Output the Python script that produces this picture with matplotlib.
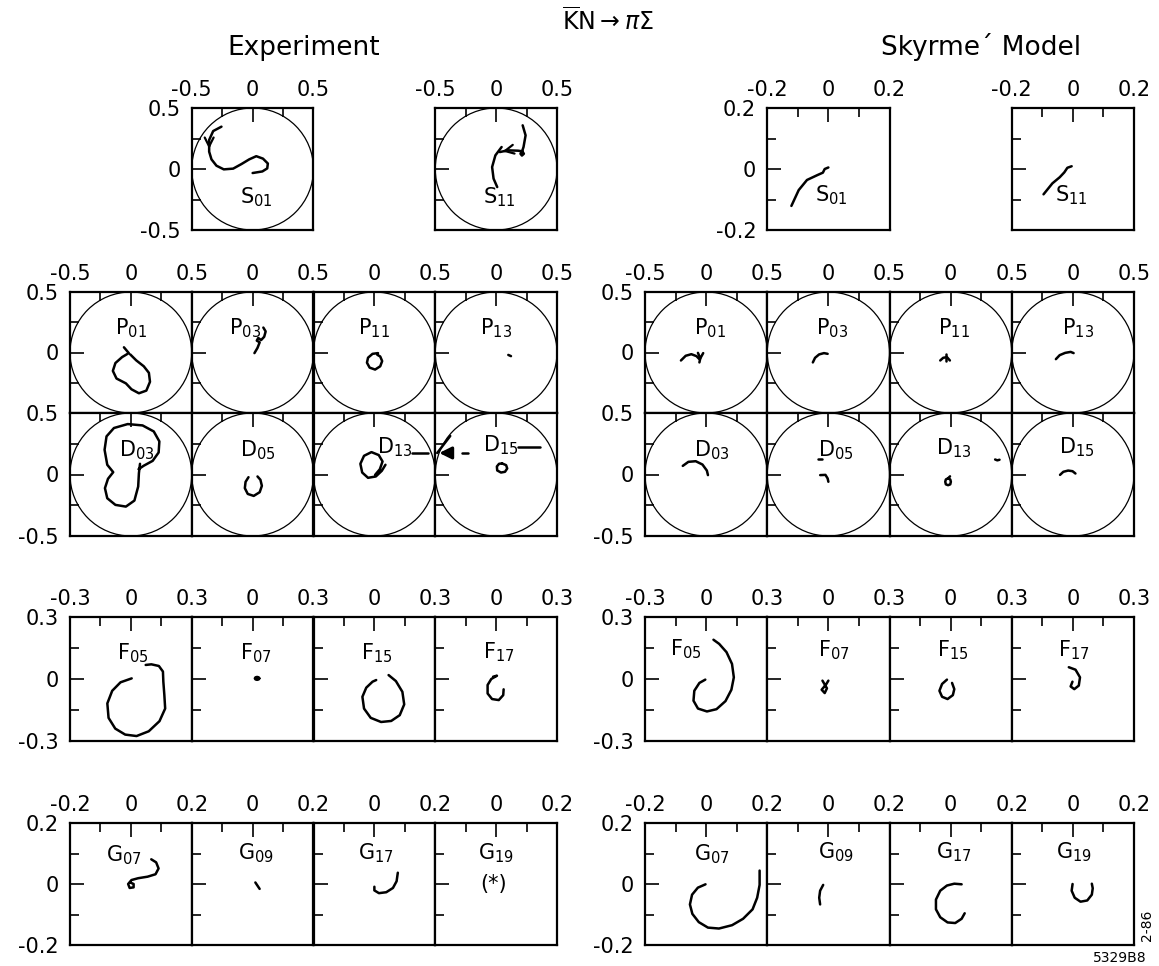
import numpy as np
import matplotlib.pyplot as plt
from matplotlib.patches import Circle

plt.rcParams['font.family'] = ['DejaVu Sans']
plt.rcParams['mathtext.fontset'] = 'dejavusans'

# Argand curves (Re T, Im T), experiment
exp_s01 = [(-0.256, 0.347), (-0.324, 0.311), (-0.357, 0.238), (-0.357, 0.142), (-0.338, 0.079),
           (-0.297, 0.027), (-0.237, -0.003), (-0.160, 0.003), (-0.091, 0.041), (-0.028, 0.079),
           (0.030, 0.105), (0.085, 0.085), (0.125, 0.045), (0.120, 0.005), (0.080, -0.020), (0.0, -0.033)]
exp_s11a = [(0.218, 0.358), (0.242, 0.276), (0.225, 0.180), (0.215, 0.150), (0.200, 0.125), (0.212, 0.110),
            (0.228, 0.125), (0.215, 0.145), (0.180, 0.150), (0.099, 0.153), (0.030, 0.139)]
exp_s11b = [(0.045, 0.180), (-0.006, 0.112), (-0.033, 0.016), (-0.021, -0.079), (0.009, -0.148)]
exp_p01 = [(-0.057, 0.043), (-0.017, -0.005), (-0.072, -0.038), (-0.127, -0.087), (-0.148, -0.152),
           (-0.118, -0.215), (-0.041, -0.255), (0.005, -0.304), (0.066, -0.337), (0.127, -0.315),
           (0.157, -0.242), (0.148, -0.168), (0.106, -0.114), (0.044, -0.065), (-0.005, -0.016)]
exp_p03 = [(0.015, -0.005), (0.040, 0.038), (0.058, 0.084), (0.034, 0.098), (0.046, 0.120),
           (0.070, 0.103), (0.095, 0.130), (0.107, 0.174), (0.088, 0.206)]
exp_p11 = [(0.030, -0.005), (-0.015, -0.011), (-0.052, -0.043), (-0.061, -0.084), (-0.039, -0.125),
           (0.006, -0.141), (0.048, -0.114), (0.064, -0.071), (0.048, -0.033), (0.024, -0.019)]
exp_p13 = [(0.100, -0.020), (0.122, -0.030)]
exp_d03 = [(0.075, 0.087), (0.066, 0.011), (0.060, -0.098), (0.029, -0.212), (-0.041, -0.261),
           (-0.127, -0.247), (-0.194, -0.193), (-0.213, -0.111), (-0.188, -0.035), (-0.145, 0.019),
           (-0.194, 0.079), (-0.216, 0.201), (-0.200, 0.310), (-0.139, 0.378), (-0.026, 0.410),
           (0.096, 0.399), (0.188, 0.350), (0.234, 0.269), (0.228, 0.179), (0.179, 0.111),
           (0.105, 0.071), (0.063, 0.043)]
exp_d05 = [(-0.034, -0.022), (-0.058, -0.060), (-0.064, -0.111), (-0.040, -0.158), (0.009, -0.174),
           (0.058, -0.144), (0.076, -0.092), (0.064, -0.043), (0.040, -0.016)]
exp_d13 = [(0.091, 0.079), (0.061, 0.030), (0.012, -0.016), (-0.052, -0.027), (-0.100, 0.016),
           (-0.115, 0.087), (-0.085, 0.152), (-0.024, 0.182), (0.036, 0.158), (0.067, 0.106),
           (0.045, 0.043), (0.006, -0.003)]
exp_d15 = [(0.049, 0.090), (0.082, 0.076), (0.091, 0.049), (0.073, 0.022), (0.040, 0.016),
           (0.009, 0.033), (0.006, 0.065), (0.024, 0.087), (0.049, 0.090)]
exp_f05 = [(0.004, 0.003), (-0.051, -0.016), (-0.092, -0.057), (-0.116, -0.118), (-0.110, -0.188),
           (-0.077, -0.240), (-0.028, -0.269), (0.028, -0.276), (0.088, -0.253), (0.141, -0.204),
           (0.169, -0.143), (0.165, -0.078), (0.160, -0.013), (0.158, 0.036), (0.138, 0.063),
           (0.101, 0.071), (0.073, 0.068)]
exp_f07 = [(0.033, 0.003), (0.030, 0.008), (0.022, 0.010), (0.014, 0.008), (0.011, 0.003),
           (0.014, -0.002), (0.022, -0.004), (0.030, -0.002), (0.033, 0.003)]
exp_f15 = [(0.070, 0.019), (0.106, -0.010), (0.138, -0.062), (0.147, -0.123), (0.125, -0.175),
           (0.083, -0.203), (0.033, -0.208), (-0.018, -0.188), (-0.051, -0.143), (-0.059, -0.086),
           (-0.040, -0.042), (-0.009, -0.013), (0.009, -0.005)]
exp_f17 = [(-0.015, 0.011), (0.004, 0.016), (-0.024, 0.0), (-0.042, -0.029), (-0.042, -0.070),
           (-0.020, -0.097), (0.013, -0.102), (0.035, -0.078), (0.037, -0.050)]
exp_g07 = [(0.067, 0.081), (0.083, 0.071), (0.091, 0.051), (0.081, 0.032), (0.055, 0.024),
           (0.024, 0.019), (0.002, 0.013), (-0.009, 0.0), (-0.004, -0.013), (0.009, -0.011),
           (0.009, 0.0), (0.0, 0.004)]
exp_g09 = [(0.009, 0.005), (0.023, -0.016)]
exp_g17 = [(0.077, 0.037), (0.073, 0.009), (0.061, -0.013), (0.039, -0.027), (0.015, -0.030),
           (0.0, -0.021), (0.0, -0.009)]

# marker strokes around D13 / D15
d13_dash = [(0.31, 0.175), (0.44, 0.175)]
d15_arrow = [(-0.336, 0.175), (-0.49, 0.175)]
d15_diag = [(-0.484, 0.175), (-0.377, 0.313)]
d15_trail = [(-0.28, 0.175), (-0.23, 0.175)]
d15_dash = [(0.18, 0.224), (0.36, 0.224)]

# Argand curves, Skyrme model
sky_s01 = [(-0.121, -0.121), (-0.097, -0.069), (-0.070, -0.036), (-0.036, -0.020), (-0.018, -0.012),
           (-0.012, 0.0), (0.0, 0.005)]
sky_s11 = [(-0.096, -0.083), (-0.067, -0.047), (-0.043, -0.027), (-0.028, -0.011), (-0.018, 0.004),
           (-0.004, 0.009)]
sky_p01a = [(-0.206, -0.066), (-0.167, -0.027), (-0.121, -0.014), (-0.079, -0.030), (-0.055, -0.055)]
sky_p01b = [(-0.067, -0.003), (-0.048, -0.049), (-0.024, -0.005)]
sky_p01c = [(-0.048, -0.049), (-0.055, -0.082)]
sky_p03 = [(-0.127, -0.082), (-0.109, -0.044), (-0.076, -0.016), (-0.036, -0.005), (-0.006, -0.011)]
sky_p11a = [(-0.085, -0.066), (-0.061, -0.044), (-0.030, -0.038), (-0.006, -0.066)]
sky_p11b = [(-0.036, -0.016), (-0.036, -0.071)]
sky_p13 = [(-0.139, -0.055), (-0.108, -0.022), (-0.063, -0.003), (-0.018, 0.005), (0.006, -0.005)]
sky_d03 = [(-0.191, 0.070), (-0.145, 0.103), (-0.085, 0.108), (-0.030, 0.081), (0.006, 0.032),
           (0.015, -0.005)]
sky_d05a = [(-0.067, -0.005), (-0.024, -0.003), (-0.006, -0.032), (0.0, -0.059)]
sky_d05b = [(-0.082, 0.122), (-0.055, 0.122)]
sky_d13a = [(-0.021, -0.031), (-0.003, -0.040), (0.002, -0.059), (-0.003, -0.080), (-0.021, -0.087),
            (-0.039, -0.080), (-0.044, -0.059), (-0.039, -0.040), (-0.021, -0.031), (-0.005, -0.015)]
sky_d13b = [(0.364, 0.122), (0.382, 0.115), (0.400, 0.120)]
sky_d15 = [(-0.105, -0.003), (-0.078, 0.022), (-0.039, 0.032), (-0.003, 0.027), (0.021, 0.008)]
sky_f05 = [(-0.004, -0.003), (-0.033, -0.019), (-0.058, -0.057), (-0.062, -0.105), (-0.040, -0.143),
           (0.004, -0.157), (0.051, -0.146), (0.095, -0.107), (0.124, -0.052), (0.136, 0.008),
           (0.127, 0.073), (0.100, 0.130), (0.064, 0.170), (0.036, 0.190)]
sky_f07 = [(-0.029, -0.008), (-0.007, -0.045), (-0.018, -0.068), (-0.033, -0.052), (-0.011, -0.026),
           (0.0, -0.008)]
sky_f15 = [(-0.018, -0.003), (-0.042, -0.024), (-0.055, -0.057), (-0.042, -0.086), (-0.015, -0.097),
           (0.011, -0.078), (0.018, -0.049), (0.007, -0.019)]
sky_f17 = [(-0.020, 0.057), (0.013, 0.045), (0.035, 0.008), (0.029, -0.032), (0.007, -0.049),
           (-0.011, -0.036), (-0.002, -0.013)]
sky_g07 = [(-0.002, -0.001), (-0.027, -0.012), (-0.046, -0.035), (-0.053, -0.067), (-0.045, -0.098),
           (-0.024, -0.125), (0.006, -0.143), (0.042, -0.146), (0.085, -0.135), (0.121, -0.114),
           (0.152, -0.083), (0.167, -0.045), (0.175, -0.003), (0.175, 0.044)]
sky_g09 = [(-0.017, -0.003), (-0.027, -0.022), (-0.030, -0.045), (-0.027, -0.067)]
sky_g17 = [(0.036, -0.001), (0.012, 0.001), (-0.012, -0.005), (-0.034, -0.022), (-0.048, -0.051),
           (-0.048, -0.083), (-0.034, -0.109), (-0.010, -0.126), (0.015, -0.128), (0.036, -0.114),
           (0.046, -0.096)]
sky_g19 = [(-0.001, 0.0), (-0.004, -0.022), (0.006, -0.045), (0.025, -0.058), (0.047, -0.054),
           (0.062, -0.035), (0.065, -0.014), (0.062, 0.001)]

# panel grid in pixels
W, H = 1159, 966
left_cols = [70, 191.75, 313.5, 435.25, 557]
right_cols = [645, 767.25, 889.5, 1011.75, 1134]
row_s = (108, 230)
row_p = (292, 413)
row_d = (413, 536)
row_f = (617, 741)
row_g = (823, 945)

# (row, column, half range, label, label position, curves, top labels, left labels)
exp_panels = [
    (row_s, 1, 0.5, 'S$_{01}$', (0.03, -0.23), [exp_s01], 'full', 'full'),
    (row_s, 3, 0.5, 'S$_{11}$', (0.024, -0.23), [exp_s11a, exp_s11b], 'full', 'none'),
    (row_p, 0, 0.5, 'P$_{01}$', (0.0, 0.2), [exp_p01], 'full', 'upper'),
    (row_p, 1, 0.5, 'P$_{03}$', (-0.06, 0.2), [exp_p03], 'right', 'none'),
    (row_p, 2, 0.5, 'P$_{11}$', (0.0, 0.2), [exp_p11], 'right', 'none'),
    (row_p, 3, 0.5, 'P$_{13}$', (0.0, 0.2), [exp_p13], 'right', 'none'),
    (row_d, 0, 0.5, 'D$_{03}$', (0.05, 0.2), [exp_d03], 'none', 'full'),
    (row_d, 1, 0.5, 'D$_{05}$', (0.04, 0.2), [exp_d05], 'none', 'none'),
    (row_d, 2, 0.5, 'D$_{13}$', (0.17, 0.22), [exp_d13, d13_dash], 'none', 'none'),
    (row_d, 3, 0.5, 'D$_{15}$', (0.04, 0.24), [exp_d15, d15_diag, d15_trail, d15_dash], 'none', 'none'),
    (row_f, 0, 0.3, 'F$_{05}$', (0.01, 0.125), [exp_f05], 'full', 'full'),
    (row_f, 1, 0.3, 'F$_{07}$', (0.017, 0.125), [exp_f07], 'right', 'none'),
    (row_f, 2, 0.3, 'F$_{15}$', (0.01, 0.125), [exp_f15], 'right', 'none'),
    (row_f, 3, 0.3, 'F$_{17}$', (0.013, 0.13), [exp_f17], 'right', 'none'),
    (row_g, 0, 0.2, 'G$_{07}$', (-0.024, 0.096), [exp_g07], 'full', 'full'),
    (row_g, 1, 0.2, 'G$_{09}$', (0.011, 0.1), [exp_g09], 'right', 'none'),
    (row_g, 2, 0.2, 'G$_{17}$', (0.006, 0.1), [exp_g17], 'right', 'none'),
    (row_g, 3, 0.2, 'G$_{19}$', (0.0, 0.1), [], 'right', 'none'),
]
sky_panels = [
    (row_s, 1, 0.2, 'S$_{01}$', (0.01, -0.085), [sky_s01], 'full', 'full'),
    (row_s, 3, 0.2, 'S$_{11}$', (-0.006, -0.085), [sky_s11], 'full', 'none'),
    (row_p, 0, 0.5, 'P$_{01}$', (0.03, 0.2), [sky_p01a, sky_p01b, sky_p01c], 'full', 'upper'),
    (row_p, 1, 0.5, 'P$_{03}$', (0.03, 0.2), [sky_p03], 'right', 'none'),
    (row_p, 2, 0.5, 'P$_{11}$', (0.03, 0.2), [sky_p11a, sky_p11b], 'right', 'none'),
    (row_p, 3, 0.5, 'P$_{13}$', (0.04, 0.2), [sky_p13], 'right', 'none'),
    (row_d, 0, 0.5, 'D$_{03}$', (0.045, 0.2), [sky_d03], 'none', 'full'),
    (row_d, 1, 0.5, 'D$_{05}$', (0.06, 0.2), [sky_d05a, sky_d05b], 'none', 'none'),
    (row_d, 2, 0.5, 'D$_{13}$', (0.03, 0.21), [sky_d13a, sky_d13b], 'none', 'none'),
    (row_d, 3, 0.5, 'D$_{15}$', (0.03, 0.22), [sky_d15], 'none', 'none'),
    (row_f, 0, 0.3, 'F$_{05}$', (-0.1, 0.146), [sky_f05], 'full', 'full'),
    (row_f, 1, 0.3, 'F$_{07}$', (0.027, 0.138), [sky_f07], 'right', 'none'),
    (row_f, 2, 0.3, 'F$_{15}$', (0.009, 0.138), [sky_f15], 'right', 'none'),
    (row_f, 3, 0.3, 'F$_{17}$', (0.007, 0.138), [sky_f17], 'right', 'none'),
    (row_g, 0, 0.2, 'G$_{07}$', (0.018, 0.097), [sky_g07], 'full', 'full'),
    (row_g, 1, 0.2, 'G$_{09}$', (0.024, 0.103), [sky_g09], 'right', 'none'),
    (row_g, 2, 0.2, 'G$_{17}$', (0.012, 0.103), [sky_g17], 'right', 'none'),
    (row_g, 3, 0.2, 'G$_{19}$', (0.005, 0.103), [sky_g19], 'right', 'none'),
]

fig = plt.figure(figsize=(W / 100, H / 100), dpi=100)


def fmt(v):
    return '0' if v == 0 else f'{v:.1f}'


def make_panel(cols, spec):
    rows, i, r, name, lpos, curves, xl, yl = spec
    x0, x1 = cols[i], cols[i + 1]
    y0, y1 = rows
    ax = fig.add_axes([x0 / W, 1 - y1 / H, (x1 - x0) / W, (y1 - y0) / H])
    ax.set_xlim(-r, r)
    ax.set_ylim(-r, r)
    ticks = [-r, 0, r]
    labs = [fmt(v) for v in ticks]
    ax.set_xticks(ticks)
    ax.set_yticks(ticks)
    ax.set_xticks([-r / 2, r / 2], minor=True)
    ax.set_yticks([-r / 2, r / 2], minor=True)
    keep = {'full': [1, 1, 1], 'right': [0, 1, 1], 'upper': [0, 1, 1], 'none': [0, 0, 0]}
    ax.set_xticklabels([t if k else '' for t, k in zip(labs, keep[xl])])
    ax.set_yticklabels([t if k else '' for t, k in zip(labs, keep[yl])])
    ax.tick_params(which='both', direction='in', top=True, bottom=False, left=True, right=False,
                   labeltop=True, labelbottom=False, width=1.2, labelsize=15, colors='black')
    ax.tick_params(axis='x', pad=6)
    ax.tick_params(axis='y', pad=8)
    ax.tick_params(which='major', length=10)
    ax.tick_params(which='minor', length=6.5)
    for s in ax.spines.values():
        s.set_linewidth(1.6)
    ax.add_patch(Circle((0, 0), 0.5, fill=False, lw=0.9, color='black'))
    for c in curves:
        xs, ys = np.array(c).T
        ax.plot(xs, ys, color='black', lw=1.8, solid_capstyle='round', solid_joinstyle='round')
    ax.text(lpos[0], lpos[1], name, ha='center', va='center', fontsize=15)
    return ax


exp_axes = [make_panel(left_cols, p) for p in exp_panels]
sky_axes = [make_panel(right_cols, p) for p in sky_panels]

# direction arrows on the S-wave curves
arrow_kw = dict(arrowstyle='->', lw=1.6, color='black', mutation_scale=16)
exp_axes[0].annotate('', xy=exp_s01[3], xytext=exp_s01[2], arrowprops=arrow_kw)
exp_axes[1].annotate('', xy=exp_s11a[-1], xytext=exp_s11a[-2], arrowprops=arrow_kw)

# heavy pointer from D15 onto the D13 marker
exp_axes[9].annotate('', xy=d15_arrow[1], xytext=d15_arrow[0], annotation_clip=False,
                     arrowprops=dict(arrowstyle='-|>', lw=2.2, color='black', mutation_scale=18))
exp_axes[17].text(-0.01, 0.0, '(*)', ha='center', va='center', fontsize=15)

fig.text(608 / W, 1 - 21 / H, r'$\overline{\mathrm{K}}\mathrm{N}\rightarrow\pi\Sigma$',
         ha='center', va='center', fontsize=17)
fig.text(304 / W, 1 - 48 / H, 'Experiment', ha='center', va='center', fontsize=19)
fig.text(981 / W, 1 - 47 / H, 'Skyrme\u00b4 Model', ha='center', va='center', fontsize=19)
fig.text(1147 / W, 1 - 925 / H, '2-86', ha='center', va='center', fontsize=10, rotation=90)
fig.text(1120 / W, 1 - 958 / H, '5329B8', ha='center', va='center', fontsize=10)

fig.savefig('out.png', dpi=100, facecolor='white')
